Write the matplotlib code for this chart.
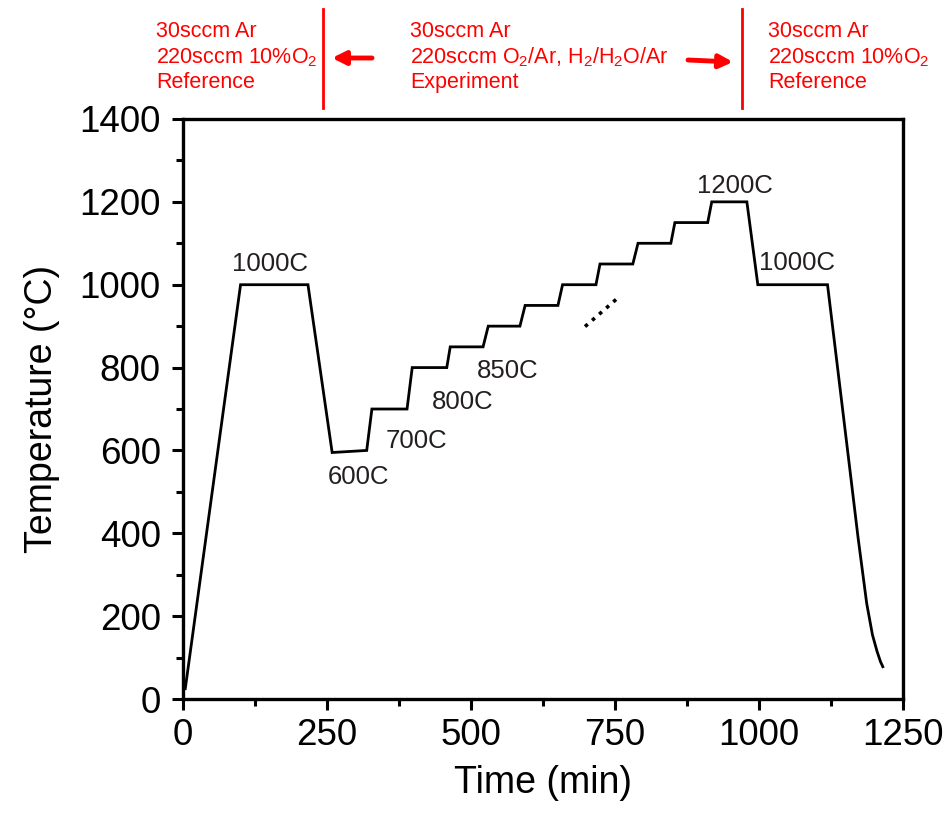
import matplotlib
matplotlib.use("Agg")
import matplotlib.pyplot as plt
from matplotlib.transforms import blended_transform_factory

plt.rcParams['font.family'] = ['Liberation Sans', 'DejaVu Sans']
plt.rcParams['mathtext.fontset'] = 'custom'
plt.rcParams['mathtext.rm'] = 'Liberation Sans'
plt.rcParams['mathtext.it'] = 'Liberation Sans'

# Temperature profile (time in min, temperature in C)
time_min = [4, 100, 217, 259, 319, 328, 389, 398, 458, 464, 521, 530, 585, 594,
            651, 659, 717, 724, 781, 790, 847, 854, 911, 918, 979, 998, 1119,
            1144, 1158, 1172, 1187, 1197, 1205, 1211, 1215]
temp_c = [25, 1000, 1000, 595, 600, 700, 700, 800, 800, 850, 850, 900, 900, 950,
          950, 1000, 1000, 1050, 1050, 1100, 1100, 1150, 1150, 1200, 1200, 1000, 1000,
          713, 552, 390, 231, 155, 115, 90, 78]

# "more steps" dotted hint
dots_t = [698, 759]
dots_T = [899, 973]

# step labels
labels = ['1000C', '600C', '700C', '800C', '850C', '1200C', '1000C']
label_t = [151, 304, 406, 485, 563, 958, 1066]
label_T = [1034, 518, 605, 701, 776, 1222, 1036]

# gas regime boundaries (min)
boundaries = [243, 970]

fig = plt.figure(figsize=(9.49, 8.15), dpi=100)
ax = fig.add_axes([0.1928, 0.1423, 0.7587, 0.7117])

ax.plot(time_min, temp_c, color='black', lw=2.0, solid_joinstyle='miter')
ax.plot(dots_t, dots_T, color='black', lw=2.6, linestyle=(0, (1, 1.6)))

for s, t, T in zip(labels, label_t, label_T):
    ax.text(t, T, s, ha='center', va='baseline', fontsize=18.5, color='#231f20')

ax.set_xlim(0, 1250)
ax.set_ylim(0, 1400)
ax.set_xticks([0, 250, 500, 750, 1000, 1250])
ax.set_xticks([125, 375, 625, 875, 1125], minor=True)
ax.set_yticks(range(0, 1401, 200))
ax.set_yticks(range(100, 1400, 200), minor=True)
ax.tick_params(which='major', direction='out', length=8, width=2.2, labelsize=26.5, pad=6)
ax.tick_params(axis='y', which='major', pad=8)
ax.tick_params(which='minor', direction='out', length=5, width=2.2)
for sp in ax.spines.values():
    sp.set_linewidth(2.4)

ax.set_xlabel('Time (min)', fontsize=27, labelpad=8)
ax.set_ylabel('Temperature (°C)', fontsize=27, labelpad=14)

# red boundary lines above the plot
trans = blended_transform_factory(ax.transData, fig.transFigure)
for b in boundaries:
    ax.plot([b, b], [1 - 9 / 815, 1 - 108 / 815], color='red', lw=2.0,
            transform=trans, clip_on=False)

red = '#ff0000'
blocks = [
    (156, ['30sccm Ar', '220sccm 10%O$_2$', 'Reference']),
    (410, ['30sccm Ar', '220sccm O$_2$/Ar, H$_2$/H$_2$O/Ar', 'Experiment']),
    (768, ['30sccm Ar', '220sccm 10%O$_2$', 'Reference']),
]
line_y = [37, 63, 88]
for x, lines in blocks:
    for s, y in zip(lines, line_y):
        fig.text(x / 949, 1 - y / 815, s, fontsize=15.5, color=red,
                 ha='left', va='baseline')

# arrows
ax.annotate('', xy=(332 / 949, 1 - 58 / 815), xytext=(372 / 949, 1 - 58 / 815),
            xycoords='figure fraction', textcoords='figure fraction',
            arrowprops=dict(arrowstyle='-|>', color=red, lw=3.5, mutation_scale=20,
                            shrinkA=0, shrinkB=0))
ax.annotate('', xy=(733 / 949, 1 - 62 / 815), xytext=(688 / 949, 1 - 60 / 815),
            xycoords='figure fraction', textcoords='figure fraction',
            arrowprops=dict(arrowstyle='-|>', color=red, lw=3.5, mutation_scale=20,
                            shrinkA=0, shrinkB=0))

fig.savefig('out.png', dpi=100)
